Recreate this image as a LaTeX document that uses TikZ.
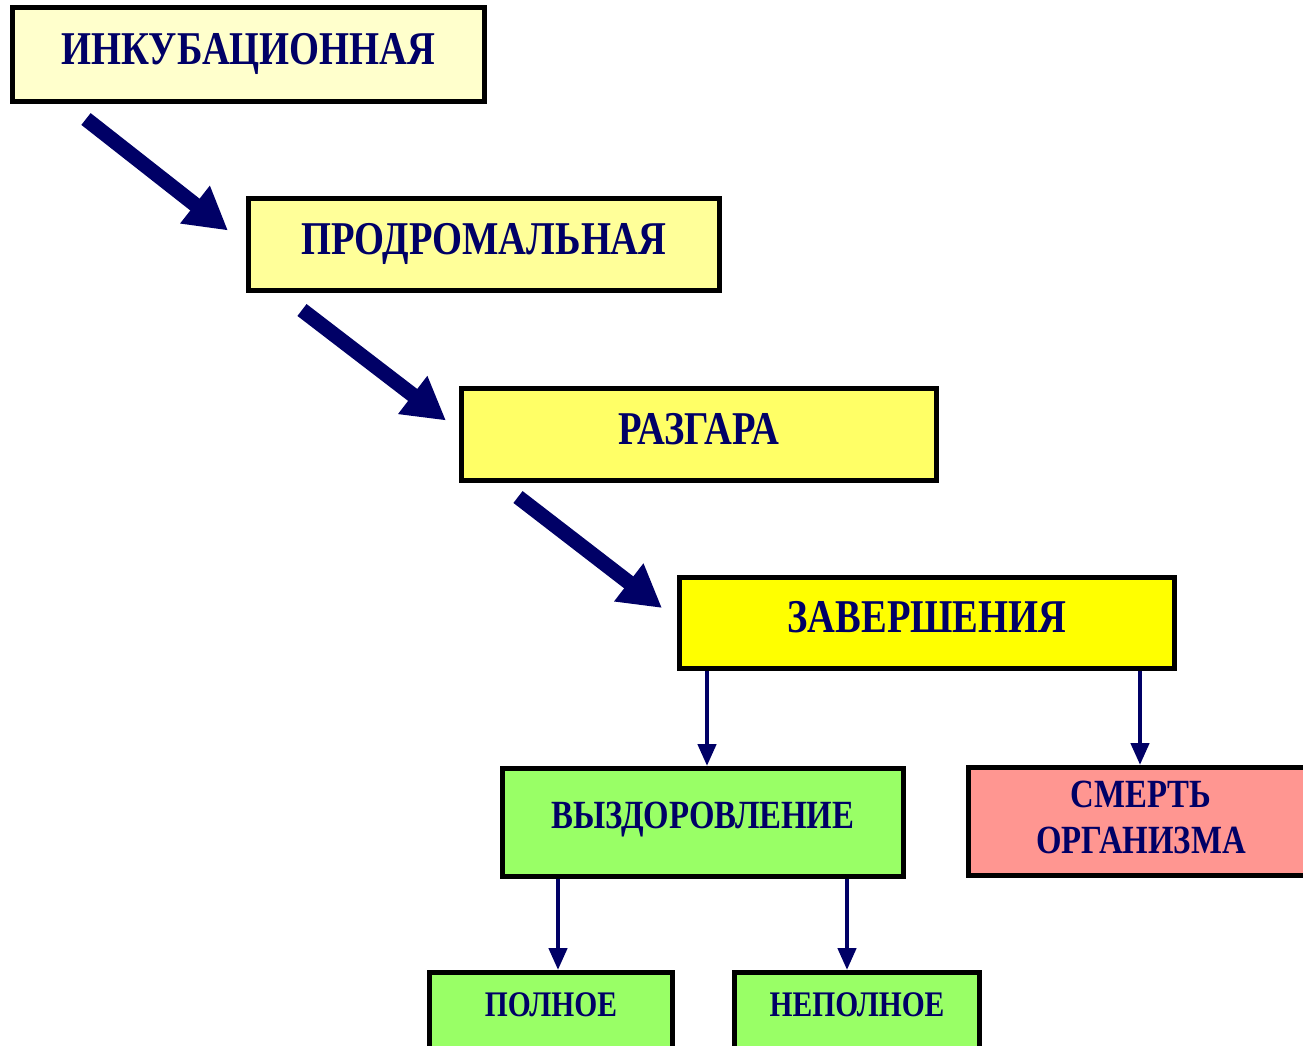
\documentclass[tikz,border=0pt]{standalone}
\usepackage{fontspec}
\newfontfamily\stagefont{Liberation Serif}[FakeStretch=0.82]
\usetikzlibrary{arrows.meta,calc}
\definecolor{navy}{RGB}{0,0,102}
\definecolor{cream}{RGB}{255,255,204}
\definecolor{paleyellow}{RGB}{255,255,153}
\definecolor{midyellow}{RGB}{255,255,102}
\definecolor{fullyellow}{RGB}{255,255,0}
\definecolor{lightgreen}{RGB}{153,255,102}
\definecolor{salmon}{RGB}{255,150,145}
\tikzset{stage/.style={draw=black,line width=5pt,text=navy,inner sep=0pt,align=center,
        font=\stagefont\bfseries\fontsize{47}{47}\selectfont,text height=32pt,text depth=13pt},
    outcome/.style={stage,font=\stagefont\bfseries\fontsize{40}{46}\selectfont,text height=27pt,text depth=15pt},
    result/.style={stage,font=\stagefont\bfseries\fontsize{36}{36}\selectfont,text height=24pt,text depth=32pt},
    bigarrow/.style={navy,line width=15pt,-{Triangle[width=45pt,length=42pt]}},
    thinarrow/.style={navy,line width=4.5pt,-{Triangle[width=18pt,length=22pt]}}}
\begin{document}
\begin{tikzpicture}[x=1pt,y=-1pt]
    \useasboundingbox (0,0) rectangle (1303,1045);
    \clip (0,0) rectangle (1303,1045);
    % stages
    \node[stage,fill=cream,minimum width=472pt,minimum height=94pt] (ink) at (248.5,54.5) {ИНКУБАЦИОННАЯ};
    \node[stage,fill=paleyellow,minimum width=471pt,minimum height=92pt] (prod) at (484,244.5) {ПРОДРОМАЛЬНАЯ};
    \node[stage,fill=midyellow,minimum width=475pt,minimum height=92pt] (razg) at (699,434.5) {РАЗГАРА};
    \node[stage,fill=fullyellow,minimum width=495pt,minimum height=91pt] (zav) at (927,623) {ЗАВЕРШЕНИЯ};
    % outcomes
    \node[outcome,fill=lightgreen,minimum width=401pt,minimum height=108pt] (vyz) at (703,822.5) {ВЫЗДОРОВЛЕНИЕ};
    \node[outcome,fill=salmon,minimum width=345pt,minimum height=108pt,text height=73pt,text depth=9pt] (smert) at (1141,821.5) {СМЕРТЬ\\ОРГАНИЗМА};
    \node[result,fill=lightgreen,minimum width=243pt,minimum height=95pt] (poln) at (551,1020) {ПОЛНОЕ};
    \node[result,fill=lightgreen,minimum width=245pt,minimum height=95pt] (nepoln) at (857,1020) {НЕПОЛНОЕ};

    \coordinate (a1) at ($(ink.south west)+(76,15)$);
    \coordinate (a2) at ($(prod.south west)+(56,17)$);
    \coordinate (a3) at ($(razg.south west)+(59,14)$);
    \draw[bigarrow] (a1) -- ($(prod.west)+(-18,-14)$);
    \draw[bigarrow] (a2) -- ($(razg.west)+(-13,-14)$);
    \draw[bigarrow] (a3) -- ($(zav.west)+(-15,-15)$);

    \draw[thinarrow] ([xshift=30pt]zav.south west) -- ([xshift=30pt]zav.south west |- vyz.north);
    \draw[thinarrow] ([xshift=-37pt]zav.south east) -- ([xshift=-37pt]zav.south east |- smert.north);
    \draw[thinarrow] ([xshift=58pt]vyz.south west) -- ([xshift=58pt]vyz.south west |- poln.north);
    \draw[thinarrow] ([xshift=-59pt]vyz.south east) -- ([xshift=-59pt]vyz.south east |- nepoln.north);
\end{tikzpicture}
\end{document}
